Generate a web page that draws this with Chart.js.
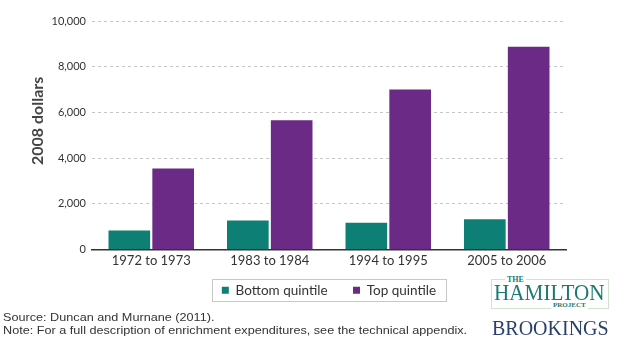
<!DOCTYPE html>
<html>
<head>
<meta charset="utf-8">
<script src="https://cdn.jsdelivr.net/npm/chart.js@4.4.0/dist/chart.umd.min.js"></script>
<style>
  html, body { margin: 0; padding: 0; background: #fff; }
  #wrap { position: relative; width: 641px; height: 353px; overflow: hidden; }
  #chart-box { position: absolute; left: 0; top: 0; width: 641px; height: 353px; }
  .note { position: absolute; left: 3px; font-family: 'Liberation Sans', Arial, sans-serif; font-size: 11px; line-height: 13px; color: #333; white-space: nowrap; transform: scaleX(1.15); transform-origin: left top; }
  .logo { position: absolute; font-family: 'Liberation Serif', 'Times New Roman', serif; white-space: nowrap; }
</style>
</head>
<body>
<div id="wrap">
  <div id="chart-box"><canvas id="enrich-chart" width="641" height="353"></canvas></div>
  <div class="note" style="top:311px">Source: Duncan and Murnane (2011).</div>
  <div class="note" style="top:324px">Note: For a full description of enrichment expenditures, see the technical appendix.</div>

  <div class="logo" style="left:491px; top:279px; width:116px; height:28px; border:1px solid #cfe3cf;"></div>
  <div class="logo" style="left:505px; top:275px; font-size:8px; font-weight:bold; color:#1d7a70; background:#fff; padding:0 2px;">THE</div>
  <div class="logo" style="left:494px; top:281px; font-size:23px; color:#1d7a70; transform:scaleX(0.92); transform-origin:left top; line-height:23px;">HAMILTON</div>
  <div class="logo" style="left:551px; top:301px; font-size:7px; font-weight:bold; color:#1d7a70; background:#fff; padding:0 2px;">PROJECT</div>
  <div class="logo" style="left:492px; top:317px; font-size:20px; color:#2b3f6b; line-height:22px;">BROOKINGS</div>
</div>
<script>
var categories = ['1972 to 1973', '1983 to 1984', '1994 to 1995', '2005 to 2006']
var bottomQuintile = [830, 1270, 1170, 1320]
var topQuintile = [3540, 5660, 7000, 8870]
var yTicks = [0, 2000, 4000, 6000, 8000, 10000]
var yTitle = '2008 dollars'

var chartFont = "'Lato', 'Noto Sans', sans-serif"

// frame around the legend items, like the boxed legend of the original
var legendFrame = {
    id: 'legendFrame',
    afterDraw: function(chart){
        var boxes = chart.legend.legendHitBoxes
        if (!boxes || !boxes.length) return
        var first = boxes[0]
        var last = boxes[boxes.length - 1]
        var cy = first.top + first.height / 2
        var ctx = chart.ctx
        ctx.save()
        ctx.strokeStyle = '#c8c8c8'
        ctx.lineWidth = 1
        ctx.strokeRect(Math.round(first.left - 10) + 0.5, Math.round(cy - 11) + 0.5,
            Math.round(last.left + last.width - first.left + 20), 22)
        ctx.restore()
    }
}

// y axis title sits a bit above the middle of the axis in the original
var axisTitle = {
    id: 'axisTitle',
    afterDraw: function(chart){
        var area = chart.chartArea
        var ctx = chart.ctx
        ctx.save()
        ctx.translate(38, area.top + area.height * 0.437)
        ctx.rotate(-Math.PI / 2)
        ctx.fillStyle = '#444'
        ctx.font = "bold 16px " + chartFont
        ctx.textAlign = 'center'
        ctx.textBaseline = 'middle'
        ctx.fillText(yTitle, 0, 0)
        ctx.restore()
    }
}

const ctx = document.getElementById('enrich-chart').getContext('2d')
const config = {
    type: 'bar',
    data: {
        labels: categories,
        datasets: [
            {
                label: 'Bottom quintile',
                data: bottomQuintile,
                backgroundColor: '#0e7f74',
                borderWidth: 0,
                categoryPercentage: 0.74,
                barPercentage: 0.95
            },
            {
                label: 'Top quintile',
                data: topQuintile,
                backgroundColor: '#6a2a86',
                borderWidth: 0,
                categoryPercentage: 0.74,
                barPercentage: 0.95
            }
        ]
    },
    options: {
        responsive: false,
        animation: false,
        layout: {
            padding: { left: 28, right: 75, top: 21, bottom: 46 }
        },
        plugins: {
            legend: {
                position: 'bottom',
                fullSize: false,
                labels: {
                    boxWidth: 7,
                    boxHeight: 7,
                    padding: 12,
                    color: '#333',
                    font: { family: chartFont, size: 13.5 },
                    generateLabels: function(chart){
                        var items = Chart.defaults.plugins.legend.labels.generateLabels(chart)
                        // wider gap between the two entries than between rows
                        items.forEach(function(item, i){
                            if (i < items.length - 1) item.text = item.text + '\u2002\u2002'
                        })
                        return items
                    }
                }
            },
            tooltip: { enabled: false }
        },
        scales: {
            x: {
                grid: { display: false, drawTicks: false },
                border: { display: true, color: '#333', width: 1.5 },
                ticks: {
                    color: '#333',
                    padding: 4,
                    font: { family: chartFont, size: 13 }
                },
                afterFit: function(scale){ scale.height = 22 }
            },
            y: {
                min: 0,
                max: 10000,
                afterBuildTicks: function(scale){
                    scale.ticks = yTicks.map(function(v){ return { value: v } })
                },
                grid: {
                    color: function(c){ return c.tick.value === 0 ? 'rgba(0,0,0,0)' : '#c6c6c6' },
                    drawTicks: false
                },
                border: { display: false, dash: [3, 3] },
                ticks: {
                    color: '#333',
                    padding: 6,
                    font: { family: chartFont, size: 11 },
                    callback: function(v){ return v.toLocaleString('en-US') }
                },
                afterFit: function(scale){ scale.width = 64 }
            }
        }
    },
    plugins: [legendFrame, axisTitle]
}
const myChart = new Chart(ctx, config)
</script>
</body>
</html>
